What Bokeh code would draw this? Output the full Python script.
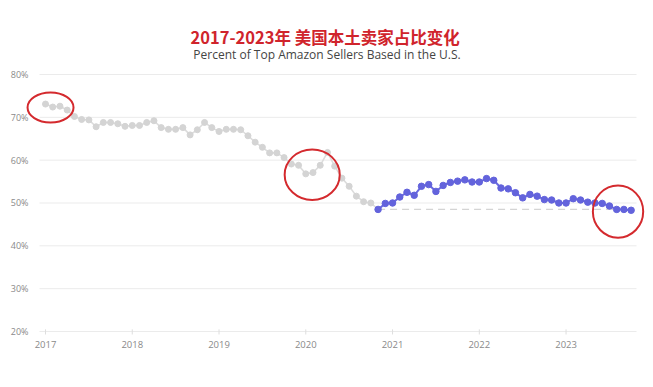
from bokeh.plotting import figure
from bokeh.core.properties import value
from bokeh.embed import file_html
from bokeh.resources import INLINE

# ---- data (monthly, Jan 2017 onward) ----
start_year = 2017
grey_values = [73.1, 72.4, 72.6, 71.7, 70.2, 69.5, 69.4, 67.8, 68.8, 68.8, 68.5, 67.9,
               68.1, 68.1, 68.8, 69.2, 67.6, 67.2, 67.2, 67.6, 65.9, 67.1, 68.8, 67.6,
               66.7, 67.2, 67.2, 67.1, 65.7, 64.2, 63.0, 61.7, 61.7, 60.6, 59.1, 58.8,
               56.8, 57.1, 58.8, 61.8, 58.6, 55.8, 53.9, 51.6, 50.3, 50.0]
blue_values = [48.5, 49.9, 50.0, 51.4, 52.5, 51.8, 53.9, 54.3, 52.7, 54.1, 54.8, 55.1,
               55.4, 54.9, 54.9, 55.7, 55.3, 53.5, 53.3, 52.4, 51.2, 52.0, 51.6, 50.8,
               50.7, 50.0, 50.0, 51.0, 50.7, 50.2, 50.0, 49.9, 49.3, 48.5, 48.5, 48.3]
year_ticks = [2017, 2018, 2019, 2020, 2021, 2022, 2023]
year_labels = ["2017", "2018", "2019", "2020", "2021", "2022", "2023"]
pct_ticks = [20, 30, 40, 50, 60, 70, 80]
pct_labels = ["20%", "30%", "40%", "50%", "60%", "70%", "80%"]

# highlight ellipses (annotation): centre x (year), centre y (%), width (years), height (%)
ell_x = [2017.058, 2020.074, 2023.599]
ell_y = [72.3, 56.6, 48.0]
ell_w = [0.53, 0.635, 0.58]
ell_h = [7.0, 11.8, 12.2]

title_text = "2017-2023年  美国本土卖家占比变化"
subtitle_text = "Percent of Top Amazon Sellers Based in the U.S."

# ---- scale set-up: the plotting frame covers the whole canvas ----
W, H = 645, 379
px_per_year = 86.76
px_per_pct = 4.2833
x0_px, y80_px = 45.0, 74.0           # pixel of Jan 2017 and of the 80% line


def xd(px):
    return start_year + (px - x0_px) / px_per_year


def yd(py):
    return 80 - (py - y80_px) / px_per_pct


n_grey = len(grey_values)
grey_x = [start_year + i / 12 for i in range(n_grey)]
blue_x = [start_year + (n_grey + i) / 12 for i in range(len(blue_values))]

p = figure(width=W, height=H, x_range=(xd(0), xd(W)), y_range=(yd(H), yd(0)),
           output_backend="svg", toolbar_location=None, title=None,
           x_axis_location=None, y_axis_location=None,
           min_border=0, min_border_left=0, min_border_right=0, min_border_top=0, min_border_bottom=0)
p.outline_line_color = None
p.background_fill_color = "white"
p.border_fill_color = "white"
p.grid.visible = False

grid_left, grid_right = xd(39), xd(636)

# horizontal grid lines
p.segment(x0=[grid_left] * len(pct_ticks), x1=[grid_right] * len(pct_ticks),
          y0=pct_ticks, y1=pct_ticks, line_color="#ebebeb", line_width=1)
# small x tick marks
p.segment(x0=year_ticks, x1=year_ticks, y0=[pct_ticks[0] - 0.7] * len(year_ticks),
          y1=[pct_ticks[0] + 0.5] * len(year_ticks), line_color="#dedede", line_width=1)

# tick labels
p.text(x=[xd(28)] * len(pct_ticks), y=pct_ticks, text=pct_labels, text_align="right",
       text_baseline="middle", text_font=value("Open Sans"), text_font_size="9px",
       text_color="#8a8a8a")
p.text(x=year_ticks, y=[pct_ticks[0] - 3.0] * len(year_ticks), text=year_labels,
       text_align="center", text_baseline="middle", text_font=value("Open Sans"),
       text_font_size="9.5px", text_color="#8a8a8a")

# dashed reference line at first blue value
p.line([blue_x[0], blue_x[-1]], [blue_values[0], blue_values[0]],
       line_color="#d4d4d4", line_width=1.2, line_dash="7 5")

# grey series (connects to first blue point)
p.line(grey_x + [blue_x[0]], grey_values + [blue_values[0]], line_color="#dcdcdc", line_width=1.6)
p.scatter(grey_x, grey_values, size=6, fill_color="#d4d4d4", line_color="#d4d4d4")

# blue series
p.line(blue_x, blue_values, line_color="#6a6ae0", line_width=2)
p.scatter(blue_x, blue_values, size=6.5, fill_color="#6363dc", line_color="#6363dc")

# red highlight ellipses
p.ellipse(x=ell_x, y=ell_y, width=ell_w, height=ell_h, fill_color=None,
          line_color="#d42a2e", line_width=2)

# titles
title_x = xd(326.5)
p.text(x=[title_x], y=[yd(36)], text=[title_text], text_align="center", text_baseline="middle",
       text_font=value("Noto Sans CJK SC"), text_font_size="16.5px", text_font_style="bold",
       text_color="#d0242c")
p.text(x=[title_x], y=[yd(54)], text=[subtitle_text], text_align="center", text_baseline="middle",
       text_font=value("Open Sans"), text_font_size="12px", text_color="#444444")

open("out.html", "w").write(file_html(p, INLINE))
